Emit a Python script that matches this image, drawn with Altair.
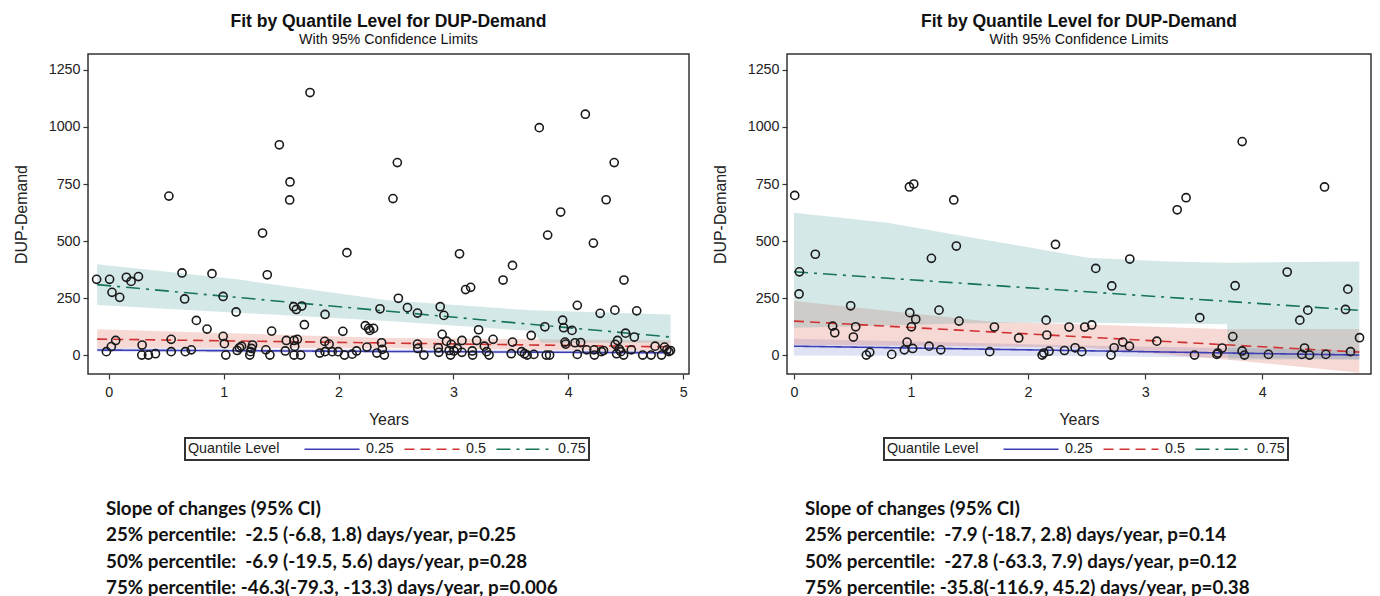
import altair as alt
import pandas as pd

# ---------------- shared settings ----------------
QUANTS = ["0.25", "0.5", "0.75"]
LINE_COLORS = ["#3c3cb4", "#d03232", "#16745a"]
BAND_COLORS = ["#7b8bd3", "#db6353", "#57a3a3"]
DASHES = [[1, 0], [10, 6], [14, 6, 3, 6]]
Y_DOMAIN = [-83, 1320]
Y_TICKS = [0, 250, 500, 750, 1000, 1250]

TITLE = "Fit by Quantile Level for DUP-Demand"
SUBTITLE = "With 95% Confidence Limits"
NB = "\u00a0"

# ---------------- left panel ----------------
L_x = [-0.105, -0.02, 0.008, 0.023, 0.029, 0.061, 0.096, 0.154, 0.195, 0.259, 0.291, 0.288, 0.346, 0.407,
       0.524, 0.544, 0.544, 0.638, 0.661, 0.667, 0.719, 0.763, 0.856, 0.899, 0.996, 0.996, 1.007, 1.019,
       1.109, 1.118, 1.138, 1.156, 1.228, 1.234, 1.252, 1.243, 1.339, 1.368, 1.380, 1.403, 1.418, 1.485,
       1.537, 1.546, 1.578, 1.575, 1.610, 1.633, 1.680, 1.613, 1.642, 1.619, 1.613, 1.671, 1.703, 1.752,
       1.837, 1.880, 1.883, 1.883, 1.918, 1.945, 1.997, 2.038, 2.052, 2.073, 2.119, 2.157, 2.233, 2.247,
       2.262, 2.273, 2.305, 2.361, 2.334, 2.375, 2.381, 2.399,
       2.474, 2.512, 2.521, 2.60, 2.687, 2.687, 2.690, 2.743, 2.868, 2.873, 2.885, 2.902, 2.917, 2.940,
       2.963, 2.975, 2.981, 3.004, 3.033, 3.053, 3.074, 3.074, 3.106, 3.150, 3.167, 3.164, 3.202, 3.219,
       3.269, 3.289, 3.310, 3.345, 3.432, 3.503, 3.514, 3.514, 3.593, 3.619, 3.642, 3.677, 3.700, 3.747,
       3.796, 3.820, 3.808, 3.837, 3.933, 3.950, 3.959, 3.971, 3.977, 4.032, 4.058, 4.078, 4.078, 4.107,
       4.148, 4.160, 4.218, 4.224, 4.227, 4.277, 4.288, 4.306, 4.329, 4.399, 4.405, 4.408, 4.420, 4.428,
       4.443, 4.457, 4.484, 4.481, 4.498, 4.548, 4.574, 4.595, 4.647, 4.720, 4.755, 4.811, 4.837, 4.858,
       4.875, 4.889]
L_y = [332, 15, 332, 37, 275, 64, 253, 341, 323, 344, 44, 0, 0, 6,
       697, 69, 15, 360, 246, 15, 23, 152, 114, 357, 257, 82, 50, 0,
       189, 20, 32, 39, 0, 15, 44, 29, 535, 23, 352, 0, 105, 922,
       18, 64, 759, 680, 212, 200, 215, 64, 69, 38, 0, 0, 133, 1151,
       9, 60, 178, 15, 48, 15, 15, 104, 0, 449, 4, 18, 129, 35,
       117, 108, 117, 203, 9, 54, 25, 0,
       686, 844, 249, 208, 184, 48, 29, 0, 32, 12, 212, 91, 174, 61,
       20, 0, 47, 18, 29, 444, 64, 12, 287, 297, 0, 18, 64, 111,
       39, 15, 0, 69, 329, 6, 393, 57, 15, 6, 0, 86, 3, 997,
       124, 526, 0, 0, 627, 153, 120, 57, 48, 108, 54, 218, 3, 55,
       1056, 23, 491, 23, 0, 183, 15, 20, 681, 844, 197, 47, 6, 64,
       26, 15, 329, 0, 96, 23, 79, 194, 0, 0, 39, 0, 35, 23,
       15, 20]

L_line_x = [-0.1, 4.89]
L_q25 = [22, 10]
L_q50 = [70, 36]
L_q75 = [309, 79]

L_b25_x = [-0.1, 4.89]
L_b25_lo = [14, 4]
L_b25_hi = [32, 18]
L_b50_x = [-0.1, 2.43, 4.89]
L_b50_lo = [32, 30, 18]
L_b50_hi = [113, 75, 64]
L_b75_x = [-0.1, 1.12, 2.43, 3.68, 3.77, 4.89]
L_b75_lo = [219, 186, 149, 105, 54, 54]
L_b75_hi = [398, 332, 240, 196, 195, 178]

L_text = ["Slope of changes (95% CI)",
          "25% percentile: " + NB + "-2.5 (-6.8, 1.8) days/year, p=0.25",
          "50% percentile: " + NB + "-6.9 (-19.5, 5.6) days/year, p=0.28",
          "75% percentile: -46.3(-79.3, -13.3) days/year, p=0.006"]

# ---------------- right panel ----------------
R_x = [0.006, 0.046, 0.043, 0.182, 0.330, 0.348, 0.484, 0.527, 0.507, 0.618, 0.647, 0.835, 0.943, 0.966,
       0.986, 1.023, 0.989, 1.003, 1.014, 1.040, 1.154, 1.174, 1.239, 1.254, 1.365, 1.387, 1.410, 1.672,
       1.712, 1.920, 2.120, 2.134, 2.154, 2.160, 2.179, 2.234, 2.311, 2.350, 2.402, 2.459, 2.484, 2.544,
       2.578, 2.715, 2.709, 2.735, 2.809, 2.866, 2.869, 3.100, 3.274, 3.350, 3.422, 3.467, 3.613, 3.621,
       3.658, 3.749, 3.769, 3.829, 3.829, 3.849, 4.054, 4.214, 4.322, 4.339, 4.362, 4.390, 4.405, 4.533,
       4.544, 4.712, 4.732, 4.755, 4.832]
R_y = [700, 365, 268, 442, 127, 98, 216, 124, 79, 0, 12, 3, 23, 57,
       737, 750, 186, 124, 29, 157, 39, 424, 197, 23, 680, 478, 149, 15,
       123, 75, 0, 9, 153, 88, 17, 485, 20, 123, 32, 15, 123, 132,
       380, 303, 0, 32, 57, 39, 421, 61, 637, 690, 0, 164, 3, 9,
       31, 81, 304, 936, 18, 0, 3, 364, 153, 3, 31, 197, 0, 737,
       3, 200, 289, 15, 76]

R_line_x = [0.0, 4.83]
R_q25 = [39, 0]
R_q50 = [149, 13]
R_q75 = [365, 196]

R_b25_x = [0.0, 2.45, 4.83]
R_b25_lo = [-2, -4, -19]
R_b25_hi = [72, 42, 21]
R_b50_x = [0.0, 1.71, 2.5, 3.71, 4.83]
R_b50_lo = [45, 38, 32, -20, -77]
R_b50_hi = [237, 145, 134, 113, 113]
R_b75_x = [0.0, 0.8, 1.37, 1.94, 2.51, 3.2, 3.7, 3.71, 4.83]
R_b75_lo = [120, 130, 138, 142, 142, 138, 135, -19, -19]
R_b75_hi = [624, 580, 529, 478, 427, 410, 405, 405, 410]

R_text = ["Slope of changes (95% CI)",
          "25% percentile: " + NB + "-7.9 (-18.7, 2.8) days/year, p=0.14",
          "50% percentile: " + NB + "-27.8 (-63.3, 7.9) days/year, p=0.12",
          "75% percentile: -35.8(-116.9, 45.2) days/year, p=0.38"]


def panel(px, py, line_x, q_vals, bands, x_dom, width, x_ticks, text_lines):
    xs = alt.Scale(domain=x_dom, nice=False, zero=False)
    ys = alt.Scale(domain=Y_DOMAIN, nice=False, zero=False)
    xax = alt.Axis(values=x_ticks, format="d", title="Years", labelPadding=6, titlePadding=12)
    yax = alt.Axis(values=Y_TICKS, format="d", title="DUP-Demand", labelPadding=3, titlePadding=19)

    layers = []
    for i, (bx, lo, hi) in enumerate(bands):
        bdf = pd.DataFrame({"x": bx, "lo": lo, "hi": hi})
        layers.append(
            alt.Chart(bdf).mark_area(color=BAND_COLORS[i], opacity=0.25, clip=True).encode(
                x=alt.X("x:Q", scale=xs, axis=xax),
                y=alt.Y("lo:Q", scale=ys, axis=yax),
                y2="hi:Q",
            )
        )

    rows = []
    for q, vals in zip(QUANTS, q_vals):
        for xv, yv in zip(line_x, vals):
            rows.append({"x": xv, "y": yv, "q": q})
    ldf = pd.DataFrame(rows)
    layers.append(
        alt.Chart(ldf).mark_line(strokeWidth=1.6, clip=True).encode(
            x=alt.X("x:Q", scale=xs, axis=xax),
            y=alt.Y("y:Q", scale=ys, axis=yax),
            color=alt.Color("q:N", scale=alt.Scale(domain=QUANTS, range=LINE_COLORS),
                            title="Quantile Level"),
            strokeDash=alt.StrokeDash("q:N", scale=alt.Scale(domain=QUANTS, range=DASHES),
                                      title="Quantile Level"),
        )
    )

    pdf = pd.DataFrame({"x": px, "y": py})
    layers.append(
        alt.Chart(pdf).mark_point(shape="circle", filled=False, size=66, strokeWidth=1.6,
                                  color="#1a1a1a", opacity=1).encode(
            x=alt.X("x:Q", scale=xs, axis=xax),
            y=alt.Y("y:Q", scale=ys, axis=yax),
        )
    )

    tdf = pd.DataFrame({"t": ["\n".join(text_lines)]})
    layers.append(
        alt.Chart(tdf).mark_text(align="left", baseline="alphabetic", font="Lato", fontWeight="bold",
                                 fontSize=18.8, lineBreak="\n", lineHeight=26.4, color="#111111").encode(
            text="t:N", x=alt.value(18), y=alt.value(461)
        )
    )

    return alt.layer(*layers).properties(
        width=width, height=320,
        title=alt.TitleParams(text=TITLE, subtitle=SUBTITLE, anchor="middle", font="Liberation Sans",
                              fontSize=17.5, fontWeight="bold", color="#111111",
                              subtitleFont="Liberation Sans", subtitleFontSize=14.3,
                              subtitleColor="#111111", subtitlePadding=2, offset=7),
    )


left = panel(L_x, L_y, L_line_x, [L_q25, L_q50, L_q75],
             [(L_b25_x, L_b25_lo, L_b25_hi), (L_b50_x, L_b50_lo, L_b50_hi), (L_b75_x, L_b75_lo, L_b75_hi)],
             [-0.18, 5.05], 601, [0, 1, 2, 3, 4, 5], L_text)
right = panel(R_x, R_y, R_line_x, [R_q25, R_q50, R_q75],
              [(R_b25_x, R_b25_lo, R_b25_hi), (R_b50_x, R_b50_lo, R_b50_hi), (R_b75_x, R_b75_lo, R_b75_hi)],
              [-0.06, 4.93], 584, [0, 1, 2, 3, 4], R_text)

chart = (
    alt.hconcat(left, right, spacing=21)
    .resolve_scale(x="independent", y="independent", color="independent", strokeDash="independent")
    .resolve_legend(color="independent", strokeDash="independent")
    .properties(padding={"left": 4, "top": 4, "right": 0, "bottom": 0}, background="white")
    .configure_view(stroke="#333333", strokeWidth=1.5)
    .configure_axis(domain=False, grid=False, ticks=True, tickSize=5, tickColor="#333333", tickWidth=1.2,
                    labelFont="Liberation Sans", labelFontSize=14.3, labelColor="#222222",
                    titleFont="Liberation Sans", titleFontSize=15.9, titleFontWeight="normal",
                    titleColor="#222222")
    .configure_legend(orient="none", legendX=97, legendY=384, direction="horizontal",
                      titleOrient="left", strokeColor="#333333", strokeWidth=2, padding=3,
                      symbolType="M-3.93,0H3.93", symbolSize=196, symbolStrokeWidth=1.5,
                      labelFont="Liberation Sans", labelFontSize=14.3, labelColor="#222222",
                      titleFont="Liberation Sans", titleFontSize=14.3, titleFontWeight="normal",
                      titleColor="#222222", titlePadding=44, columnPadding=7, labelOffset=26)
)

chart.save("out.html", embed_options={"renderer": "svg", "actions": False})
